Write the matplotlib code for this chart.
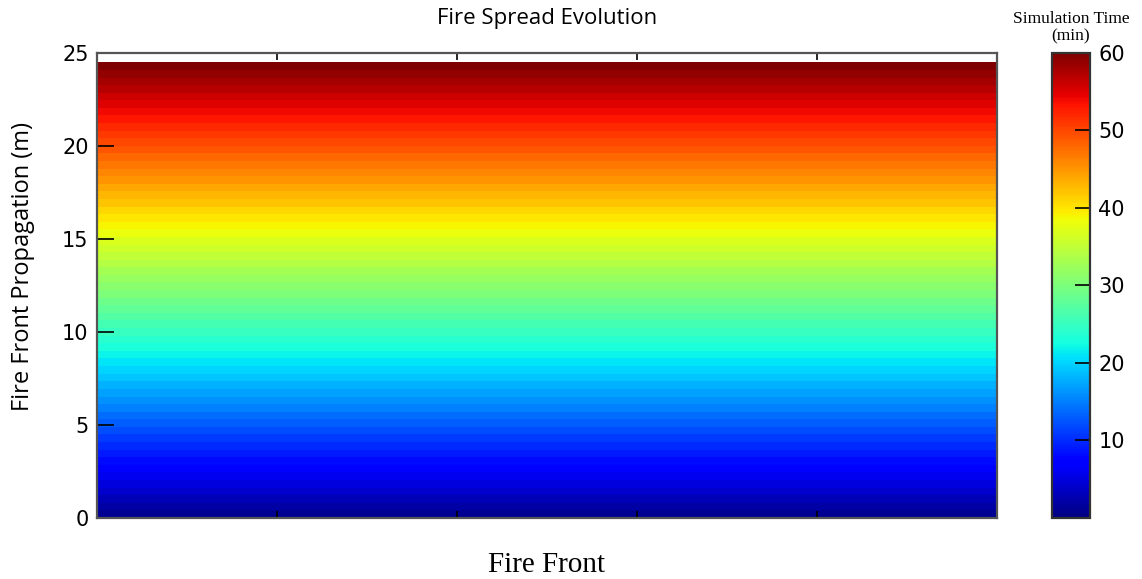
import numpy as np
import matplotlib.pyplot as plt

# fire front position (m) at the end of each simulated minute
front_edges = [0.00, 0.41, 0.82, 1.23, 1.63, 2.04, 2.45, 2.86, 3.27, 3.68,
               4.08, 4.49, 4.90, 5.31, 5.72, 6.13, 6.53, 6.94, 7.35, 7.76,
               8.17, 8.58, 8.98, 9.39, 9.80, 10.21, 10.62, 11.03, 11.43, 11.84,
               12.25, 12.66, 13.07, 13.48, 13.88, 14.29, 14.70, 15.11, 15.52, 15.93,
               16.33, 16.74, 17.15, 17.56, 17.97, 18.38, 18.78, 19.19, 19.60, 20.01,
               20.42, 20.83, 21.23, 21.64, 22.05, 22.46, 22.87, 23.28, 23.68, 24.09,
               24.50]
sim_minutes = [1, 2, 3, 4, 5, 6, 7, 8, 9, 10,
               11, 12, 13, 14, 15, 16, 17, 18, 19, 20,
               21, 22, 23, 24, 25, 26, 27, 28, 29, 30,
               31, 32, 33, 34, 35, 36, 37, 38, 39, 40,
               41, 42, 43, 44, 45, 46, 47, 48, 49, 50,
               51, 52, 53, 54, 55, 56, 57, 58, 59, 60]
front_width = [0, 100]
x_ticks = [20, 40, 60, 80]
y_ticks = [0, 5, 10, 15, 20, 25]
cbar_ticks = [10, 20, 30, 40, 50, 60]


def plotFireSpread():
    fig = plt.figure(figsize=(11.42, 5.79), dpi=100)
    ax = fig.add_axes([0.0849, 0.1054, 0.7881, 0.8031])
    cax = fig.add_axes([0.9212, 0.1054, 0.0333, 0.8031])

    times = np.array(sim_minutes, dtype=float)[:, None]
    mesh = ax.pcolormesh(front_width, front_edges, times, cmap='jet',
                         vmin=0, vmax=60, shading='flat')

    ax.set_xlim(front_width[0], front_width[1])
    ax.set_ylim(0, 25)
    ax.set_xticks(x_ticks)
    ax.set_xticklabels([])
    ax.set_yticks(y_ticks)
    ax.tick_params(axis='both', direction='in', top=True, right=False,
                   labelsize=15, colors='black')
    ax.tick_params(axis='y', length=12, width=1.2, pad=6)
    ax.tick_params(axis='x', length=5, width=1.2)
    for sp in ax.spines.values():
        sp.set_linewidth(1.6)
        sp.set_color('#555555')

    ax.set_title('Fire Spread Evolution', fontsize=16, family='Open Sans', pad=21)
    ax.set_ylabel('Fire Front Propagation (m)', fontsize=17, family='Open Sans')
    ax.yaxis.set_label_coords(-0.069, 0.54)
    ax.set_xlabel('Fire Front', fontsize=21, family='Liberation Serif', labelpad=21)

    cb = fig.colorbar(mesh, cax=cax, ticks=cbar_ticks)
    cb.ax.tick_params(direction='in', length=11, width=1.2, labelsize=15, pad=6)
    cb.outline.set_linewidth(1.6)
    cb.outline.set_edgecolor('#333333')
    cax.set_title('Simulation Time\n(min)', fontsize=12.5, family='Liberation Serif',
                  pad=9, linespacing=1.15)

    fig.savefig('out.png', dpi=100)


def main():
    plotFireSpread()
    return


if __name__ == "__main__":
    main()
